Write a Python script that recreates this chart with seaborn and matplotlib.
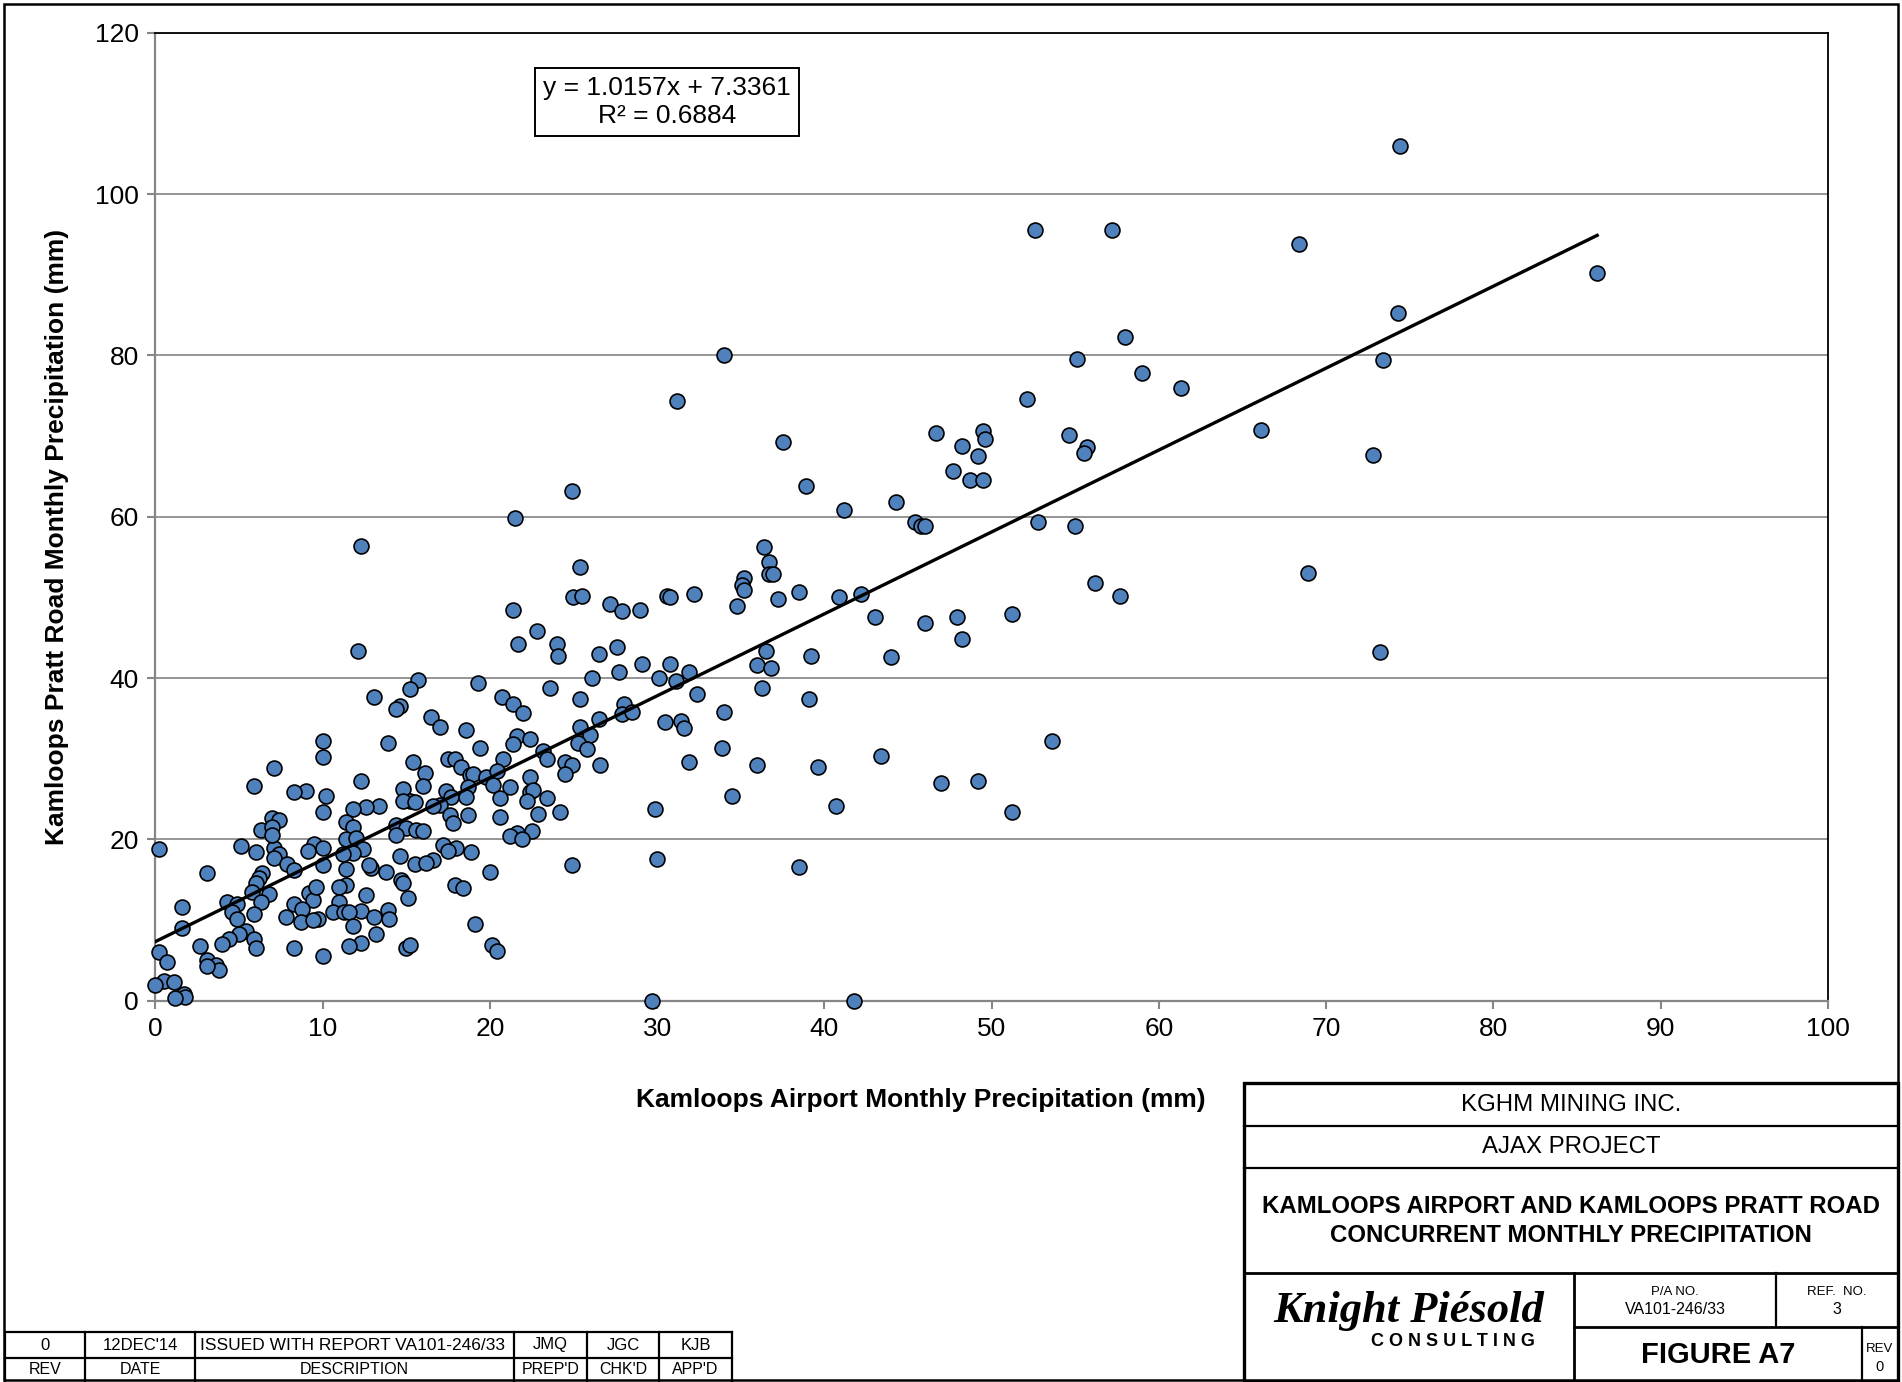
import matplotlib
matplotlib.use("Agg")
import matplotlib.pyplot as plt
import seaborn as sns
import numpy as np
import pandas as pd
from matplotlib.patches import Rectangle
from matplotlib.lines import Line2D

# Kamloops Airport (x) vs Kamloops Pratt Road (y) monthly precipitation, mm
airport = [74.4, 52.6, 57.2, 68.4, 86.2, 74.3, 58.0, 55.1, 73.4, 34.0, 59.0, 61.3, 31.2, 52.1,
           66.1, 46.7, 49.5, 49.6, 54.6, 37.5, 48.2, 55.7, 55.5, 49.2, 72.8, 47.7, 48.7, 49.5,
           38.9, 24.9, 44.3, 41.2, 21.5, 45.4, 45.8, 46.0, 52.8, 55.0, 12.3, 36.4, 36.7, 25.4,
           36.7, 36.9, 35.2, 35.1, 35.2, 68.9, 56.2, 57.7, 25.0, 25.5, 30.6, 30.8, 32.2, 37.2,
           38.5, 40.9, 42.2, 34.8, 27.2, 27.9, 29.0, 21.4, 51.2, 43.0, 47.9, 46.0, 22.8, 48.2,
           21.7, 24.0, 12.1, 24.1, 73.2, 36.5, 27.6, 26.5, 39.2, 44.0, 30.8, 29.1, 36.0, 36.8,
           27.7, 31.9, 30.1, 26.1, 31.1, 15.7, 19.3, 23.6, 36.3, 15.2, 32.4, 13.1, 20.7, 39.1,
           25.4, 21.4, 28.0, 14.6, 14.4, 22.0, 34.0, 27.9, 28.5, 16.5, 26.5, 30.5, 31.4, 31.6,
           17.0, 25.4, 18.6, 26.0, 21.6, 22.4, 21.4, 13.9, 25.3, 53.6, 10.0, 25.8, 33.9, 19.4,
           23.2, 43.4, 23.4, 10.0, 20.8, 17.5, 17.9, 15.4, 31.9, 24.5, 24.9, 36.0, 39.6, 26.6,
           18.3, 7.1, 24.5, 16.1, 18.8, 19.0, 19.8, 20.4, 22.4, 12.3, 47.0, 49.2, 20.2, 16.0,
           5.9, 18.7, 21.2, 22.4, 22.6, 14.8, 9.0, 17.4, 8.3, 10.2, 34.5, 20.6, 23.4, 17.7,
           18.6, 22.2, 15.2, 14.8, 15.5, 17.0, 16.6, 13.4, 12.6, 40.7, 11.8, 29.9, 51.2, 10.0,
           24.2, 22.9, 20.6, 18.7, 17.6, 17.8, 7.0, 7.4, 11.4, 14.4, 6.3, 7.0, 11.8, 15.0,
           15.6, 16.0, 22.5, 21.6, 21.2, 14.4, 11.4, 12.0, 21.9, 0.2, 5.1, 7.1, 9.5, 10.0,
           17.2, 18.0, 12.4, 17.5, 18.9, 11.8, 11.2, 6.0, 7.4, 9.1, 14.6, 7.1, 7.9, 15.5,
           16.6, 16.2, 12.9, 12.8, 10.0, 11.4, 8.3, 24.9, 38.5, 20.0, 13.8, 6.4, 3.1, 6.2,
           14.7, 6.0, 11.4, 17.9, 18.4, 11.0, 14.8, 5.8, 9.2, 6.8, 12.6, 15.1, 9.4, 11.0,
           4.3, 6.3, 8.3, 1.6, 4.9, 8.8, 12.3, 13.9, 10.6, 11.3, 11.6, 4.6, 5.9, 7.8,
           9.7, 13.1, 8.7, 4.9, 14.0, 9.4, 19.1, 11.8, 1.6, 5.4, 5.0, 13.2, 5.9, 4.4,
           4.0, 12.3, 11.6, 2.7, 8.3, 6.0, 15.0, 15.2, 20.1, 20.4, 0.2, 10.0, 3.1, 0.7,
           3.6, 3.8, 0.5, 1.1, 0.0, 1.7, 1.8, 1.2, 29.7, 41.8, 30.0, 3.1, 7.0, 9.6]
pratt_road = [106.0, 95.6, 95.6, 93.8, 90.2, 85.3, 82.3, 79.6, 79.4, 80.0, 77.8, 76.0, 74.4, 74.6,
              70.8, 70.4, 70.6, 69.6, 70.2, 69.3, 68.8, 68.6, 67.9, 67.5, 67.6, 65.7, 64.6, 64.6,
              63.8, 63.2, 61.8, 60.8, 59.8, 59.4, 58.8, 58.9, 59.4, 58.8, 56.4, 56.2, 54.4, 53.8,
              52.9, 52.9, 52.4, 51.6, 50.9, 53.0, 51.8, 50.2, 50.0, 50.2, 50.2, 50.0, 50.4, 49.8,
              50.7, 50.0, 50.4, 48.9, 49.2, 48.3, 48.4, 48.4, 48.0, 47.6, 47.6, 46.8, 45.8, 44.8,
              44.2, 44.2, 43.4, 42.8, 43.3, 43.4, 43.8, 43.0, 42.8, 42.6, 41.7, 41.7, 41.6, 41.2,
              40.7, 40.8, 40.0, 40.0, 39.6, 39.8, 39.4, 38.8, 38.8, 38.7, 38.0, 37.6, 37.6, 37.4,
              37.4, 36.8, 36.8, 36.5, 36.2, 35.7, 35.8, 35.6, 35.8, 35.2, 34.9, 34.6, 34.7, 33.8,
              34.0, 34.0, 33.6, 32.9, 32.8, 32.5, 31.8, 32.0, 31.9, 32.2, 32.2, 31.2, 31.4, 31.4,
              31.0, 30.4, 30.0, 30.2, 30.0, 30.0, 30.0, 29.6, 29.6, 29.6, 29.2, 29.2, 29.0, 29.2,
              29.0, 28.8, 28.1, 28.2, 28.0, 28.1, 27.7, 28.5, 27.7, 27.2, 27.0, 27.2, 26.8, 26.6,
              26.6, 26.5, 26.5, 25.9, 26.1, 26.2, 26.0, 26.0, 25.9, 25.4, 25.4, 25.2, 25.2, 25.3,
              25.3, 24.8, 24.8, 24.8, 24.6, 24.3, 24.2, 24.2, 24.0, 24.1, 23.8, 23.8, 23.4, 23.4,
              23.4, 23.2, 22.8, 23.0, 23.0, 22.0, 22.6, 22.4, 22.2, 21.8, 21.2, 21.6, 21.6, 21.4,
              21.2, 21.0, 21.0, 20.8, 20.4, 20.6, 20.0, 20.2, 20.0, 18.8, 19.2, 19.0, 19.4, 18.9,
              19.3, 18.9, 18.8, 18.6, 18.4, 18.3, 18.2, 18.4, 18.2, 18.6, 17.9, 17.7, 17.0, 17.0,
              17.4, 17.1, 16.5, 16.8, 16.8, 16.4, 16.2, 16.8, 16.6, 16.0, 16.0, 15.8, 15.8, 15.2,
              15.0, 14.6, 14.4, 14.4, 14.0, 14.1, 14.6, 13.5, 13.4, 13.2, 13.1, 12.8, 12.5, 12.2,
              12.3, 12.3, 12.0, 11.6, 12.0, 11.4, 11.1, 11.2, 11.0, 11.0, 11.0, 11.0, 10.7, 10.4,
              10.2, 10.4, 9.8, 10.1, 10.2, 10.0, 9.5, 9.3, 9.0, 8.6, 8.3, 8.3, 7.7, 7.7,
              7.1, 7.2, 6.8, 6.8, 6.6, 6.6, 6.5, 6.9, 6.9, 6.2, 6.0, 5.6, 5.0, 4.8,
              4.5, 3.8, 2.4, 2.3, 2.0, 0.8, 0.5, 0.3, 0.0, 0.0, 17.6, 4.3, 20.5, 14.1]

# Linear trendline reported on the chart
slope = 1.0157
intercept = 7.3361
r_squared = 0.6884

x_ticks = [0, 10, 20, 30, 40, 50, 60, 70, 80, 90, 100]
y_ticks = [0, 20, 40, 60, 80, 100, 120]

df = pd.DataFrame({'airport': airport, 'pratt': pratt_road})

plt.rcParams['font.family'] = ['Liberation Sans', 'DejaVu Sans']

W, H = 1902, 1382
fig = plt.figure(figsize=(W / 100, H / 100), dpi=100)
ax = fig.add_axes([155.3 / W, 1 - 1000.8 / H, (1828 - 155.3) / W, 968 / H])

# Scatter
sns.scatterplot(data=df, x='airport', y='pratt', ax=ax, color='#4F81BD',
                edgecolor='black', linewidth=1.2, s=115, zorder=3, clip_on=False)

# Trendline
xs = np.array([df['airport'].min(), df['airport'].max()])
ax.plot(xs, slope * xs + intercept, color='black', lw=2.4, zorder=4)

ax.set_xlim(0, 100)
ax.set_ylim(0, 120)
ax.set_xticks(x_ticks)
ax.set_yticks(y_ticks)
ax.set_xlabel('')
ax.set_ylabel('')
ax.yaxis.grid(True, color='#8c8c8c', lw=1.3)
ax.xaxis.grid(False)
ax.set_axisbelow(True)
for s in ['left', 'bottom']:
    ax.spines[s].set_color('#868686')
    ax.spines[s].set_linewidth(1.6)
for s in ['top', 'right']:
    ax.spines[s].set_color('black')
    ax.spines[s].set_linewidth(1.3)
ax.tick_params(direction='out', length=6, width=1.5, color='#868686',
               labelsize=19, pad=6)

ax.text(0.306, 0.9285, f'y = {slope:.4f}x + {intercept:.4f}\nR² = {r_squared:.4f}',
        transform=ax.transAxes, ha='center', va='center', fontsize=19,
        multialignment='center',
        bbox=dict(boxstyle='square,pad=0.3', fc='white', ec='black', lw=1.4), zorder=5)

fig.text(920.7 / W, 1 - 1100 / H, 'Kamloops Airport Monthly Precipitation (mm)',
         ha='center', va='center', fontsize=19, fontweight='bold')
fig.text(57 / W, 1 - 537 / H, 'Kamloops Pratt Road Monthly Precipitation (mm)',
         ha='center', va='center', fontsize=19, fontweight='bold', rotation=90)

# Drawing frame, title block and revision table in pixel coordinates
ov = fig.add_axes([0, 0, 1, 1], zorder=10)
ov.set_xlim(0, W)
ov.set_ylim(H, 0)
ov.axis('off')
ov.patch.set_visible(False)


def hline(x0, x1, y, lw=1.6):
    ov.add_line(Line2D([x0, x1], [y, y], color='black', lw=lw))


def vline(x, y0, y1, lw=1.6):
    ov.add_line(Line2D([x, x], [y0, y1], color='black', lw=lw))


ov.add_patch(Rectangle((4, 4), W - 8, H - 6, fill=False, ec='black', lw=1.8))

# title block
tx0, tx1, ty0 = 1243.5, 1898, 1083
ov.add_patch(Rectangle((tx0, ty0), tx1 - tx0, H - ty0, fill=False, ec='black', lw=2.4))
hline(tx0, tx1, 1125.5)
hline(tx0, tx1, 1168)
hline(tx0, tx1, 1272.5, lw=2.0)
vline(1573.5, 1272.5, H, lw=2.0)
vline(1776, 1272.5, 1327)
hline(1573.5, tx1, 1327, lw=2.0)
vline(1862, 1327, H)

cx = (tx0 + tx1) / 2
ov.text(cx, 1105, 'KGHM MINING INC.', ha='center', va='center', fontsize=17.3)
ov.text(cx, 1147, 'AJAX PROJECT', ha='center', va='center', fontsize=17.3)
ov.text(cx, 1221, 'KAMLOOPS AIRPORT AND KAMLOOPS PRATT ROAD\nCONCURRENT MONTHLY PRECIPITATION',
        ha='center', va='center', fontsize=17.3, fontweight='bold', linespacing=1.3)
ov.text(1409, 1311, 'Knight Piésold', ha='center', va='center', fontsize=32,
        fontweight='bold', fontstyle='italic', family='Liberation Serif')
ov.text(1453, 1342, 'C O N S U L T I N G', ha='center', va='center', fontsize=13,
        fontweight='bold')
ov.text(1675, 1292, 'P/A NO.', ha='center', va='center', fontsize=9.5)
ov.text(1675, 1309, 'VA101-246/33', ha='center', va='center', fontsize=11.5)
ov.text(1837, 1292, 'REF.  NO.', ha='center', va='center', fontsize=9.5)
ov.text(1837, 1309, '3', ha='center', va='center', fontsize=11.5)
ov.text(1718, 1355, 'FIGURE A7', ha='center', va='center', fontsize=21, fontweight='bold')
ov.text(1880, 1349, 'REV', ha='center', va='center', fontsize=9.5)
ov.text(1880, 1367, '0', ha='center', va='center', fontsize=10.5)

# revision table
cols = [5, 85, 195, 514, 587, 659, 732]
r0, r1, r2 = 1332, 1358, 1382
hline(cols[0], cols[-1], r0)
hline(cols[0], cols[-1], r1)
for c in cols:
    vline(c, r0, r2)
rev_row = ['0', '12DEC\'14', 'ISSUED WITH REPORT VA101-246/33', 'JMQ', 'JGC', 'KJB']
head_row = ['REV', 'DATE', 'DESCRIPTION', 'PREP\'D', 'CHK\'D', 'APP\'D']
for i in range(6):
    mid = (cols[i] + cols[i + 1]) / 2
    if i == 2:
        ov.text(cols[i] + 5, (r0 + r1) / 2, rev_row[i], ha='left', va='center', fontsize=12.5)
    else:
        ov.text(mid, (r0 + r1) / 2, rev_row[i], ha='center', va='center', fontsize=12)
    ov.text(mid, (r1 + r2) / 2, head_row[i], ha='center', va='center', fontsize=11.5)

fig.savefig('out.png', dpi=100)
